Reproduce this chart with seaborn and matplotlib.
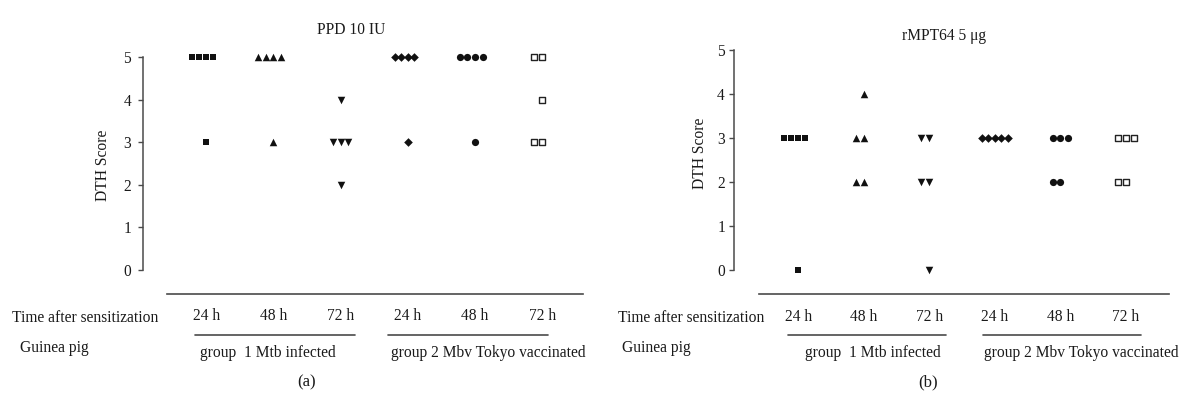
import pandas as pd
import numpy as np
import matplotlib.pyplot as plt
import seaborn as sns

sns.set_style("ticks")
plt.rcParams['font.family'] = ['Liberation Serif', 'DejaVu Serif']
plt.rcParams['font.size'] = 11.2

# data: DTH score of each guinea pig, per group / time after sensitization
categories = ['G1 24 h', 'G1 48 h', 'G1 72 h', 'G2 24 h', 'G2 48 h', 'G2 72 h']
time_labels = ['24 h', '48 h', '72 h', '24 h', '48 h', '72 h']
ppd_scores = [
    [5, 5, 5, 5, 3],
    [5, 5, 5, 5, 3],
    [4, 3, 3, 3, 2],
    [5, 5, 5, 5, 3],
    [5, 5, 5, 5, 3],
    [5, 5, 4, 3, 3],
]
mpt_scores = [
    [3, 3, 3, 3, 0],
    [4, 3, 3, 2, 2],
    [3, 3, 2, 2, 0],
    [3, 3, 3, 3, 3],
    [3, 3, 3, 2, 2],
    [3, 3, 3, 2, 2],
]
markers = ['s', '^', 'v', 'D', 'o', 's']
marker_sizes = [4.8, 5.4, 5.4, 4.4, 5.2, 4.6]
open_marker = [False, False, False, False, False, True]

W, H = 1184, 396
def fx(px):
    return px / W
def fy(py):
    return 1 - py / H

ink = '#1a1a1a'
line_col = '#4a4a4a'


def long_df(scores):
    rows = []
    for cat, vals in zip(categories, scores):
        for v in vals:
            rows.append({'cat': cat, 'score': v})
    return pd.DataFrame(rows)


fig = plt.figure(figsize=(W / 100, H / 100), dpi=100)

panels = [
    dict(scores=ppd_scores, title='PPD 10 IU', rect=[143, 276.4, 590, 50.6],
         xlim=(-0.94, 5.71), bounds=(-0.58, 5.61), ypad=5, title_xy=(351, 30),
         ylab_xy=(103, 165), time_x=12, guinea_x=20, group_lines=[(195, 355), (388, 548)],
         group_text=[268, 488], tag='(a)', tag_x=307),
    dict(scores=mpt_scores, title='rMPT64 5 μg', rect=[734, 276.6, 1175, 43.4],
         xlim=(-0.98, 5.75), bounds=(-0.60, 5.66), ypad=3, title_xy=(944, 36),
         ylab_xy=(700, 153), time_x=618, guinea_x=622, group_lines=[(788, 946), (983, 1141)],
         group_text=[873, 1081], tag='(b)', tag_x=928),
]
group_names = ['group  1 Mtb infected', 'group 2 Mbv Tokyo vaccinated']

for p in panels:
    l, b, r, t = p['rect']
    ax = fig.add_axes([fx(l), fy(b), fx(r) - fx(l), (b - t) / H])
    df = long_df(p['scores'])
    for i, cat in enumerate(categories):
        sub = df[df['cat'] == cat]
        if open_marker[i]:
            sns.swarmplot(data=sub, x='cat', y='score', order=categories, ax=ax,
                          marker=markers[i], size=marker_sizes[i], color='white',
                          edgecolor='#222222', linewidth=1.0)
        else:
            sns.swarmplot(data=sub, x='cat', y='score', order=categories, ax=ax,
                          marker=markers[i], size=marker_sizes[i], color='#111111',
                          linewidth=0)

    ax.set_xlim(*p['xlim'])
    ax.set_ylim(-0.15, 5.15)
    ax.set_yticks(range(6))
    ax.set_xticks(range(len(categories)))
    ax.set_xticklabels(time_labels)
    ax.set_xlabel('')
    ax.set_ylabel('')
    ax.tick_params(axis='x', length=0, pad=10.5, labelsize=11.2, colors=ink)
    ax.tick_params(axis='y', length=3.5, width=1.0, pad=p['ypad'], labelsize=11.2,
                   colors=ink, color=line_col)
    sns.despine(ax=ax)
    ax.spines['left'].set_bounds(0, 5)
    ax.spines['left'].set_color(line_col)
    ax.spines['left'].set_linewidth(1.1)
    ax.spines['bottom'].set_position(('outward', 12.6))
    ax.spines['bottom'].set_bounds(*p['bounds'])
    ax.spines['bottom'].set_color(line_col)
    ax.spines['bottom'].set_linewidth(1.2)
    ax.patch.set_alpha(0)

    fig.text(fx(p['title_xy'][0]), fy(p['title_xy'][1]), p['title'],
             ha='center', va='center', fontsize=11.2, color=ink)
    fig.text(fx(p['ylab_xy'][0]), fy(p['ylab_xy'][1]), 'DTH Score', rotation=90,
             ha='center', va='center', fontsize=11.2, color=ink)
    fig.text(fx(p['time_x']), fy(318), 'Time after sensitization',
             ha='left', va='center', fontsize=11.2, color=ink)
    fig.text(fx(p['guinea_x']), fy(348), 'Guinea pig',
             ha='left', va='center', fontsize=11.2, color=ink)
    for (x0, x1), gx, name in zip(p['group_lines'], p['group_text'], group_names):
        fig.add_artist(plt.Line2D([fx(x0), fx(x1)], [fy(334.5), fy(334.5)],
                                  color=line_col, lw=1.2))
        fig.text(fx(gx), fy(353), name, ha='center', va='center',
                 fontsize=11.2, color=ink)
    fig.text(fx(p['tag_x']), fy(382), p['tag'], ha='center', va='center',
             fontsize=12, color=ink)

fig.savefig('out.png', dpi=100, facecolor='white')
